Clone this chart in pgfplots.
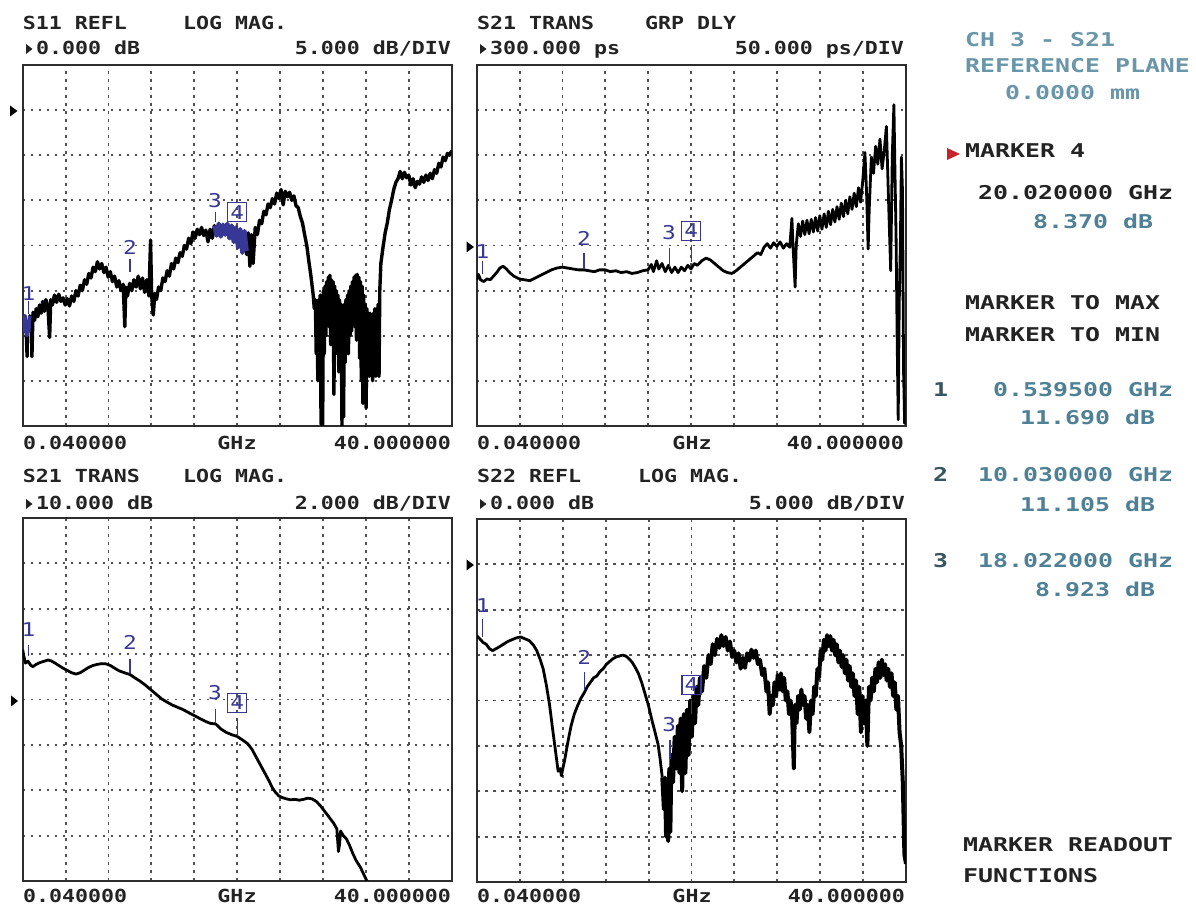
\documentclass[border=0pt]{standalone}
\usepackage{fontspec}
\usepackage{pgfplots}
\pgfplotsset{compat=1.18}
\newfontfamily\vnaL[FakeStretch=1.2]{DejaVu Sans Mono}
\newfontfamily\vnaR[FakeStretch=1.31]{DejaVu Sans Mono}
\definecolor{gridgray}{RGB}{80,80,80}
\definecolor{framegray}{RGB}{45,45,45}
\definecolor{txtdark}{RGB}{35,35,35}
\definecolor{teal1}{RGB}{78,128,150}
\definecolor{teal2}{RGB}{105,150,168}
\definecolor{tealnum}{RGB}{55,85,95}
\definecolor{mkblue}{RGB}{55,55,150}
\definecolor{mkred}{RGB}{200,35,45}
\pgfplotsset{
  vna/.style={
    scale only axis, width=429bp,
    xmin=0.04, xmax=40,
    xtick={4.036,8.032,12.028,16.024,20.02,24.016,28.012,32.008,36.004},
    xticklabels={}, yticklabels={},
    major tick length=0pt,
    grid=major,
    major grid style={draw=gridgray, line width=1.9bp, dash pattern=on 2.6bp off 5.4bp},
    axis line style={draw=framegray, line width=2.2bp},
    clip mode=individual,
  },
  trace/.style={draw=black, line width=3.4bp, line join=round, no marks},
}
\tikzset{
  lt/.style={font=\vnaL\bfseries\fontsize{18bp}{20bp}\selectfont, text=txtdark, inner sep=0pt},
  rt/.style={font=\vnaR\bfseries\fontsize{19bp}{21bp}\selectfont, inner sep=0pt, anchor=base west},
  mk/.style={font=\vnaL\fontsize{19bp}{21bp}\selectfont, text=mkblue, inner sep=0.8bp},
  mkbox/.style={mk, draw=mkblue, line width=1.4bp, inner sep=2.6bp},
  mkline/.style={draw=mkblue, line width=1.3bp},
}
\begin{document}
\begin{tikzpicture}[x=1bp,y=1bp]
\useasboundingbox (0,0) rectangle (1196,909);

% ---------------- S11 (top left) ----------------
\begin{axis}[vna, at={(22.7bp,483bp)}, anchor=south west, height=361bp,
  ymin=-35, ymax=5, ytick={-30,-25,-20,-15,-10,-5,0}]
\addplot[trace] coordinates {
(0.04,-23.0) (0.15,-24.5) (0.25,-22.8) (0.35,-24.0) (0.45,-27.3) (0.5,-23.5) (0.6,-24.5) (0.7,-22.8)
(0.85,-23.8) (0.9,-27.3) (1.0,-22.4) (1.15,-23.3) (1.3,-22.0) (1.45,-22.9) (1.6,-21.6) (1.75,-22.5) (1.9,-21.2)
(2.05,-22.3) (2.2,-21.0) (2.4,-22.0) (2.55,-25.2) (2.65,-21.0) (2.8,-21.6) (3.0,-20.5) (3.2,-21.3)
(3.4,-20.4) (3.6,-21.2) (3.8,-20.8) (4.0,-21.6) (4.2,-20.9) (4.4,-21.7) (4.6,-20.6) (4.8,-21.2)
(5.0,-20.0) (5.2,-20.6) (5.4,-19.4) (5.6,-20.0) (5.8,-18.8) (6.0,-19.3) (6.2,-18.1) (6.4,-18.6)
(6.6,-17.4) (6.8,-17.9) (7.0,-16.8) (7.2,-17.6) (7.4,-17.0) (7.6,-18.0) (7.8,-17.4) (8.0,-18.5)
(8.2,-17.9) (8.4,-19.0) (8.6,-18.4) (8.8,-19.6) (9.0,-18.9) (9.2,-20.0) (9.4,-19.3) (9.55,-24.0)
(9.65,-19.6) (9.8,-20.6) (10.0,-19.2) (10.2,-20.0) (10.4,-18.8) (10.6,-19.6) (10.8,-18.4) (11.0,-19.8)
(11.2,-18.6) (11.4,-20.2) (11.6,-18.8) (11.8,-20.6) (11.95,-14.4) (12.05,-20.5) (12.2,-22.7) (12.35,-20.3)
(12.5,-21.0) (12.7,-19.6) (12.9,-20.0) (13.1,-18.6) (13.3,-19.0) (13.5,-17.8) (13.7,-18.4) (13.9,-17.0)
(14.1,-17.6) (14.3,-16.4) (14.5,-16.9) (14.7,-15.8) (14.9,-16.2) (15.1,-15.0) (15.3,-15.4) (15.5,-14.2)
(15.7,-14.8) (15.9,-13.5) (16.1,-14.2) (16.3,-13.2) (16.5,-13.8) (16.7,-13.0) (16.9,-13.9) (17.1,-13.3)
(17.3,-14.6) (17.5,-13.2) (17.7,-14.2) (17.9,-12.8) (18.1,-13.9) (18.3,-12.6) (18.5,-14.0) (18.7,-12.7)
(18.9,-13.8) (19.1,-12.6) (19.3,-14.2) (19.5,-12.8) (19.7,-14.6) (19.9,-13.0) (20.1,-15.2) (20.3,-13.2)
(20.5,-15.8) (20.7,-13.4) (20.9,-16.0) (21.05,-13.6) (21.2,-17.3) (21.35,-13.8) (21.5,-17.0) (21.7,-13.0)
(21.9,-13.8) (22.1,-12.2) (22.3,-12.6) (22.5,-11.2) (22.7,-11.6) (22.9,-10.4) (23.1,-10.8) (23.3,-9.8)
(23.5,-10.4) (23.7,-9.2) (23.9,-9.8) (24.1,-8.8) (24.3,-10.5) (24.5,-9.0) (24.7,-9.6) (24.9,-9.1)
(25.1,-10.0) (25.3,-9.5) (25.5,-10.6) (25.7,-10.8) (25.9,-11.8) (26.1,-12.5) (26.3,-13.8) (26.5,-15.0)
(26.7,-16.8) (26.9,-18.5) (27.1,-20.5) (27.2,-22.0)
(27.30,-21.0) (27.38,-27.0) (27.45,-21.5) (27.53,-30.0) (27.60,-21.0) (27.68,-25.5) (27.75,-20.5) (27.83,-34.8)
(27.90,-21.0) (27.98,-35.0) (28.05,-20.0) (28.13,-27.0) (28.20,-19.5) (28.28,-25.0) (28.35,-19.0) (28.43,-23.5)
(28.50,-18.5) (28.58,-24.0) (28.65,-18.3) (28.73,-26.0) (28.80,-18.8) (28.88,-24.5) (28.95,-19.0) (29.03,-31.5)
(29.10,-19.5) (29.18,-27.0) (29.25,-20.0) (29.33,-25.0) (29.40,-20.5) (29.48,-29.0) (29.55,-21.0) (29.63,-27.5)
(29.70,-21.5) (29.78,-35.0) (29.85,-22.0) (29.93,-34.0) (30.00,-21.5) (30.08,-28.0) (30.15,-21.0) (30.23,-26.5)
(30.30,-20.5) (30.38,-27.0) (30.45,-20.0) (30.53,-25.0) (30.60,-19.5) (30.68,-24.5) (30.75,-19.0) (30.83,-23.5)
(30.90,-18.5) (30.98,-24.0) (31.05,-18.3) (31.13,-25.5) (31.20,-18.2) (31.28,-24.0) (31.35,-18.5) (31.43,-27.5)
(31.50,-19.0) (31.58,-30.0) (31.65,-19.5) (31.73,-32.5) (31.80,-20.5) (31.88,-28.0) (31.95,-21.5) (32.03,-33.0)
(32.10,-22.0) (32.18,-27.5) (32.25,-22.5) (32.33,-29.5) (32.40,-22.5) (32.48,-26.5) (32.55,-23.0) (32.63,-30.0)
(32.70,-22.5) (32.78,-28.5) (32.85,-22.0) (32.93,-29.5) (33.00,-22.0) (33.08,-27.0) (33.15,-21.5) (33.23,-29.5)
(33.30,-20.0) (33.40,-17.0) (33.6,-15.2) (33.8,-13.6) (34.0,-12.5) (34.2,-11.0) (34.4,-10.0) (34.6,-8.8)
(34.8,-8.0) (35.0,-7.6) (35.2,-6.8) (35.4,-7.6) (35.6,-6.9) (35.8,-7.5) (36.0,-7.2) (36.2,-8.3)
(36.4,-7.6) (36.6,-8.6) (36.8,-7.9) (37.0,-8.2) (37.2,-7.4) (37.4,-8.0) (37.6,-7.2) (37.8,-7.8)
(38.0,-7.0) (38.2,-7.6) (38.4,-6.6) (38.6,-7.0) (38.8,-5.9) (39.0,-6.3) (39.2,-5.2) (39.4,-5.6)
(39.6,-4.8) (39.8,-5.0) (40.0,-4.5)
};
\addplot[trace, draw=mkblue, line width=3.6bp] coordinates {
(0.04,-23.0) (0.15,-24.5) (0.25,-22.8) (0.35,-24.0) (0.45,-25.0) (0.5,-23.5) (0.6,-24.5) (0.7,-22.8)
};
\addplot[trace, draw=mkblue, line width=4.4bp] coordinates {
(17.9,-12.8) (18.1,-13.9) (18.3,-12.6) (18.5,-14.0) (18.7,-12.7) (18.9,-13.8) (19.1,-12.6) (19.3,-14.2)
(19.5,-12.8) (19.7,-14.6) (19.9,-13.0) (20.1,-15.2) (20.3,-13.2) (20.5,-15.8) (20.7,-13.4) (20.9,-15.6)
};
\node[mk] at (axis cs:0.58,-20.3) {1};
\draw[mkline] (axis cs:0.58,-21.2) -- (axis cs:0.58,-22.6);
\node[mk] at (axis cs:10.03,-15.2) {2};
\draw[mkline] (axis cs:10.03,-16.5) -- (axis cs:10.03,-17.9);
\node[mk] at (axis cs:17.95,-10.0) {3};
\draw[mkline] (axis cs:18.02,-11.3) -- (axis cs:18.02,-12.4);
\node[mkbox] at (axis cs:20.02,-11.3) {4};
\draw[mkline] (axis cs:20.02,-12.8) -- (axis cs:20.02,-13.6);
\end{axis}

% ---------------- S21 group delay (top right) ----------------
\begin{axis}[vna, at={(476.7bp,483bp)}, anchor=south west, height=361bp,
  ymin=100, ymax=500, ytick={150,200,250,300,350,400,450}]
\addplot[trace, line width=2.8bp] coordinates {
(0.04,262) (0.2,268) (0.4,262) (0.7,260) (1.0,263) (1.3,262) (1.6,266) (1.9,270) (2.2,275) (2.5,277)
(2.8,274) (3.1,270) (3.5,266) (4.0,263) (4.5,262) (5.0,261) (5.5,264) (6.0,267) (6.5,270) (7.0,273)
(7.5,275) (8.0,276) (8.5,275) (9.0,274) (9.5,273) (10.0,273) (10.5,272) (11.0,271) (11.5,273) (12.0,273)
(12.5,271) (13.0,272) (13.5,270) (14.0,271) (14.5,269) (15.0,270) (15.5,272) (16.0,273) (16.3,279) (16.5,271)
(16.8,283) (17.0,274) (17.3,280) (17.6,271) (17.9,278) (18.2,270) (18.5,276) (18.8,270) (19.1,276) (19.4,272)
(19.7,278) (20.0,274) (20.3,280) (20.6,278) (21.0,283) (21.4,286) (21.8,284) (22.2,280) (22.6,276) (23.0,272)
(23.4,270) (23.8,269) (24.2,272) (24.6,276) (25.0,280) (25.4,284) (25.8,288) (26.2,292) (26.5,290) (26.8,298)
(27.1,302) (27.4,297) (27.7,303) (28.0,299) (28.3,304) (28.6,297) (28.9,302) (29.2,298) (29.4,330) (29.5,300)
(29.7,254) (29.8,300) (30.0,324) (30.2,310) (30.4,327) (30.6,312) (30.8,328) (31.0,313) (31.2,329) (31.4,315)
(31.6,331) (31.8,316) (32.0,333) (32.2,318) (32.4,335) (32.6,320) (32.8,338) (33.0,323) (33.2,340) (33.4,326)
(33.6,343) (33.8,329) (34.0,347) (34.2,332) (34.4,350) (34.6,335) (34.8,354) (35.0,340) (35.2,358) (35.4,343)
(35.6,364) (35.8,348) (36.0,372) (36.2,403) (36.35,360) (36.5,296) (36.6,340) (36.8,398) (37.0,380) (37.2,410)
(37.4,390) (37.6,418) (37.8,385) (38.0,405) (38.2,432) (38.4,350) (38.6,272) (38.75,400) (38.9,456) (39.0,380)
(39.1,312) (39.2,200) (39.3,107) (39.4,240) (39.5,300) (39.6,398) (39.7,360) (39.8,160) (39.9,103) (40.0,103)
};
\node[mk] at (axis cs:0.58,293) {1};
\draw[mkline] (axis cs:0.58,283) -- (axis cs:0.58,268);
\node[mk] at (axis cs:10.03,308) {2};
\draw[mkline] (axis cs:10.03,292) -- (axis cs:10.03,274);
\node[mk] at (axis cs:17.95,314) {3};
\draw[mkline] (axis cs:18.02,297) -- (axis cs:18.02,276);
\node[mkbox] at (axis cs:20.02,316) {4};
\draw[mkline] (axis cs:20.02,300) -- (axis cs:20.02,282);
\end{axis}

% ---------------- S21 log mag (bottom left) ----------------
\begin{axis}[vna, at={(22.7bp,28bp)}, anchor=south west, height=363bp,
  ymin=2, ymax=18, ytick={4,6,8,10,12,14,16}]
\addplot[trace, line width=2.8bp] coordinates {
(0.04,12.2) (0.15,11.9) (0.3,11.6) (0.54,11.69) (0.8,11.5) (1.0,11.45) (1.3,11.55) (1.6,11.62) (2.0,11.68)
(2.4,11.74) (2.7,11.7) (3.0,11.62) (3.4,11.5) (3.8,11.38) (4.2,11.28) (4.6,11.18) (5.0,11.12) (5.4,11.18)
(5.8,11.3) (6.2,11.42) (6.6,11.5) (7.0,11.55) (7.4,11.58) (7.8,11.57) (8.2,11.5) (8.6,11.38) (9.0,11.27)
(9.5,11.18) (10.03,11.1) (10.5,10.95) (11.0,10.8) (11.5,10.62) (12.0,10.42) (12.5,10.22) (13.0,10.02)
(13.5,9.88) (14.0,9.75) (14.5,9.65) (15.0,9.55) (15.5,9.42) (16.0,9.3) (16.5,9.17) (17.0,9.05) (17.5,8.95)
(18.02,8.92) (18.5,8.7) (19.0,8.55) (19.5,8.45) (20.02,8.37) (20.5,8.22) (21.0,8.05) (21.4,7.8) (21.8,7.45)
(22.2,7.1) (22.6,6.75) (23.0,6.4) (23.3,6.1) (23.6,5.9) (23.9,5.75) (24.2,5.68) (24.6,5.62) (25.0,5.58)
(25.4,5.6) (25.8,5.56) (26.2,5.6) (26.6,5.65) (27.0,5.62) (27.4,5.5) (27.8,5.3) (28.2,5.05) (28.6,4.8)
(29.0,4.55) (29.3,4.3) (29.45,3.3) (29.55,3.6) (29.65,4.2) (29.9,4.0) (30.2,3.85) (30.5,3.55) (30.8,3.2)
(31.1,2.9) (31.5,2.6) (31.8,2.3) (32.1,2.0) (32.5,1.6)
};
\node[mk] at (axis cs:0.58,13.06) {1};
\draw[mkline] (axis cs:0.58,12.4) -- (axis cs:0.58,11.9);
\node[mk] at (axis cs:10.03,12.5) {2};
\draw[mkline] (axis cs:10.03,11.8) -- (axis cs:10.03,11.15);
\node[mk] at (axis cs:17.95,10.3) {3};
\draw[mkline] (axis cs:18.02,9.6) -- (axis cs:18.02,8.95);
\node[mkbox] at (axis cs:20.02,9.85) {4};
\draw[mkline] (axis cs:20.02,9.15) -- (axis cs:20.02,8.4);
\end{axis}

% ---------------- S22 (bottom right) ----------------
\begin{axis}[vna, at={(477bp,27bp)}, anchor=south west, height=363bp,
  ymin=-35, ymax=5, ytick={-30,-25,-20,-15,-10,-5,0}]
\addplot[trace, line width=2.8bp] coordinates {
(0.04,-7.9) (0.3,-8.2) (0.6,-8.6) (0.9,-8.8) (1.2,-9.3) (1.5,-9.5) (1.8,-9.3) (2.1,-9.1) (2.5,-8.8)
(2.9,-8.5) (3.3,-8.3) (3.7,-8.1) (4.1,-8.0) (4.5,-8.2) (4.9,-8.4) (5.3,-8.9) (5.6,-9.5) (5.9,-10.4)
(6.2,-11.5) (6.5,-13.3) (6.8,-15.5) (7.1,-18.3) (7.4,-21.0) (7.6,-22.8) (7.8,-22.5) (7.9,-23.3) (8.05,-22.4)
(8.2,-21.6) (8.5,-19.6) (8.8,-17.8) (9.1,-16.5) (9.4,-15.6) (9.7,-14.8) (10.0,-14.2) (10.3,-13.5) (10.6,-13.0)
(10.9,-12.5) (11.2,-12.3) (11.5,-11.8) (11.8,-11.5) (12.1,-11.0) (12.4,-10.7) (12.7,-10.4) (13.0,-10.2)
(13.3,-10.1) (13.6,-10.0) (13.9,-10.1) (14.2,-10.4) (14.5,-10.8) (14.8,-11.4) (15.1,-12.1) (15.4,-13.1)
(15.7,-14.3) (16.0,-15.5) (16.3,-17.0) (16.6,-18.4) (16.9,-19.8) (17.1,-21.5) (17.3,-23.5)
};
\addplot[trace, line width=4bp] coordinates {
(17.3,-23.5) (17.45,-27.0)
(17.55,-23.5) (17.65,-30.0) (17.75,-24.5) (17.85,-30.5) (17.95,-22.5) (18.05,-29.5) (18.15,-21.0) (18.3,-24.0)
(18.45,-19.0) (18.6,-22.5) (18.75,-17.8) (18.9,-23.0) (19.0,-17.0) (19.15,-25.0) (19.3,-16.5) (19.45,-23.0)
(19.6,-16.0) (19.75,-21.0) (19.9,-15.0) (20.05,-19.0) (20.2,-14.5) (20.35,-17.5) (20.5,-13.5) (20.65,-15.5)
(20.8,-12.5) (21.0,-14.0) (21.2,-11.2) (21.4,-12.5) (21.6,-10.0) (21.8,-11.0) (22.0,-8.8) (22.2,-10.0)
(22.4,-8.2) (22.6,-9.2) (22.8,-7.8) (23.0,-9.0) (23.2,-8.0) (23.4,-9.5) (23.6,-8.5) (23.8,-10.2)
(24.0,-9.5) (24.2,-10.8) (24.4,-9.8) (24.6,-11.5) (24.8,-10.3) (25.0,-11.4) (25.2,-9.8) (25.4,-10.6)
(25.6,-9.4) (25.8,-10.3) (26.0,-9.5) (26.2,-11.0) (26.4,-10.5) (26.6,-12.2) (26.8,-11.5) (27.0,-14.0)
(27.15,-13.0) (27.3,-16.5) (27.45,-14.5) (27.6,-15.5) (27.75,-13.0) (27.9,-14.5) (28.05,-12.2) (28.2,-13.8)
(28.35,-12.0) (28.5,-14.0) (28.65,-12.5) (28.8,-15.0) (28.95,-14.0) (29.1,-16.5) (29.25,-15.0) (29.4,-17.0)
(29.55,-22.5) (29.65,-15.5) (29.8,-17.5) (29.95,-14.5) (30.1,-16.0) (30.25,-13.8) (30.4,-15.5) (30.55,-14.5)
(30.7,-17.0) (30.85,-15.5) (31.0,-18.5) (31.15,-15.0) (31.3,-16.5) (31.45,-13.5) (31.6,-14.5) (31.75,-11.5)
(31.9,-12.5) (32.05,-9.5) (32.2,-10.5) (32.35,-8.3) (32.5,-9.5) (32.65,-7.8) (32.8,-9.0) (32.95,-7.9)
(33.1,-9.5) (33.25,-8.3) (33.4,-10.0) (33.55,-8.8) (33.7,-10.8) (33.85,-9.5) (34.0,-11.3) (34.15,-10.0)
(34.3,-12.0) (34.45,-10.5) (34.6,-12.8) (34.75,-11.2) (34.9,-13.5) (35.05,-12.0) (35.2,-14.5) (35.35,-12.8)
(35.5,-16.5) (35.65,-13.5) (35.8,-18.5) (35.95,-14.5) (36.1,-17.5) (36.25,-15.0) (36.4,-20.0) (36.55,-13.5)
(36.7,-15.0) (36.85,-12.5) (37.0,-14.0) (37.15,-11.5) (37.3,-13.0) (37.45,-10.8) (37.6,-12.5) (37.75,-10.5)
(37.9,-12.2) (38.05,-11.0) (38.2,-12.8) (38.35,-11.5) (38.5,-13.5) (38.65,-12.0) (38.8,-14.5) (38.95,-13.0)
(39.1,-16.0) (39.25,-14.5) (39.4,-18.5) (39.55,-20.0) (39.7,-24.0) (39.85,-32.0) (40.0,-33.0)
};
\node[mk] at (axis cs:0.58,-4.5) {1};
\draw[mkline] (axis cs:0.58,-6.0) -- (axis cs:0.58,-8.0);
\node[mk] at (axis cs:10.03,-10.3) {2};
\draw[mkline] (axis cs:10.03,-11.9) -- (axis cs:10.03,-13.8);
\node[mk] at (axis cs:17.95,-17.7) {3};
\draw[mkline] (axis cs:18.02,-19.4) -- (axis cs:18.02,-21.5);
\node[mkbox] at (axis cs:20.02,-13.3) {4};
\draw[mkline] (axis cs:20.02,-15.0) -- (axis cs:20.02,-16.5);
\end{axis}

% ---------------- panel texts ----------------
% top left
\node[lt, anchor=base west] at (22.7,879) {S11 REFL};
\node[lt, anchor=base west] at (183,879) {LOG MAG.};
\fill[txtdark] (26,855) -- (32.5,860) -- (26,865) -- cycle;
\node[lt, anchor=base west] at (36,854) {0.000 dB};
\node[lt, anchor=base east] at (451,854) {5.000 dB/DIV};
\node[lt, anchor=base west] at (23,459) {0.040000};
\node[lt, anchor=base] at (237,459) {GHz};
\node[lt, anchor=base east] at (451,459) {40.000000};
\fill[black] (10,803.5) -- (17.5,798) -- (10,792.5) -- cycle;
% top right
\node[lt, anchor=base west] at (477,879) {S21 TRANS};
\node[lt, anchor=base west] at (645,879) {GRP DLY};
\fill[txtdark] (480,855) -- (486.5,860) -- (480,865) -- cycle;
\node[lt, anchor=base west] at (490,854) {300.000 ps};
\node[lt, anchor=base east] at (904,854) {50.000 ps/DIV};
\node[lt, anchor=base west] at (477,459) {0.040000};
\node[lt, anchor=base] at (692,459) {GHz};
\node[lt, anchor=base east] at (904,459) {40.000000};
\fill[black] (466.5,667.5) -- (474,662) -- (466.5,656.5) -- cycle;
% bottom left
\node[lt, anchor=base west] at (22.7,426) {S21 TRANS};
\node[lt, anchor=base west] at (183,426) {LOG MAG.};
\fill[txtdark] (26,400) -- (32.5,405) -- (26,410) -- cycle;
\node[lt, anchor=base west] at (36,399) {10.000 dB};
\node[lt, anchor=base east] at (451,399) {2.000 dB/DIV};
\node[lt, anchor=base west] at (23,6) {0.040000};
\node[lt, anchor=base] at (237,6) {GHz};
\node[lt, anchor=base east] at (451,6) {40.000000};
\fill[black] (11,213.5) -- (18,208) -- (11,202.5) -- cycle;
% bottom right
\node[lt, anchor=base west] at (477,426) {S22 REFL};
\node[lt, anchor=base west] at (638,426) {LOG MAG.};
\fill[txtdark] (480,400) -- (486.5,405) -- (480,410) -- cycle;
\node[lt, anchor=base west] at (490,399) {0.000 dB};
\node[lt, anchor=base east] at (905,399) {5.000 dB/DIV};
\node[lt, anchor=base west] at (477,6) {0.040000};
\node[lt, anchor=base] at (692,6) {GHz};
\node[lt, anchor=base east] at (905,6) {40.000000};
\fill[black] (466.5,349.5) -- (474,344) -- (466.5,338.5) -- cycle;

% ---------------- right readout ----------------
\node[rt, text=teal2] at (965,862) {CH 3 - S21};
\node[rt, text=teal2] at (965,836) {REFERENCE PLANE};
\node[rt, text=teal2] at (1005,809) {0.0000 mm};
\fill[mkred] (947,761) -- (960,755) -- (947,749) -- cycle;
\node[rt, text=txtdark] at (965,751) {MARKER 4};
\node[rt, text=txtdark] at (978,709) {20.020000 GHz};
\node[rt, text=teal1] at (1033,680) {8.370 dB};
\node[rt, text=txtdark] at (965,599) {MARKER TO MAX};
\node[rt, text=txtdark] at (965,567) {MARKER TO MIN};
\node[rt, text=tealnum] at (933,512) {1};
\node[rt, text=teal1] at (993,512) {0.539500 GHz};
\node[rt, text=teal1] at (1020,484) {11.690 dB};
\node[rt, text=tealnum] at (933,427) {2};
\node[rt, text=teal1] at (978,427) {10.030000 GHz};
\node[rt, text=teal1] at (1020,397) {11.105 dB};
\node[rt, text=tealnum] at (933,341) {3};
\node[rt, text=teal1] at (978,341) {18.022000 GHz};
\node[rt, text=teal1] at (1035,312) {8.923 dB};
\node[rt, text=txtdark] at (963,57) {MARKER READOUT};
\node[rt, text=txtdark] at (963,26) {FUNCTIONS};
\end{tikzpicture}
\end{document}
